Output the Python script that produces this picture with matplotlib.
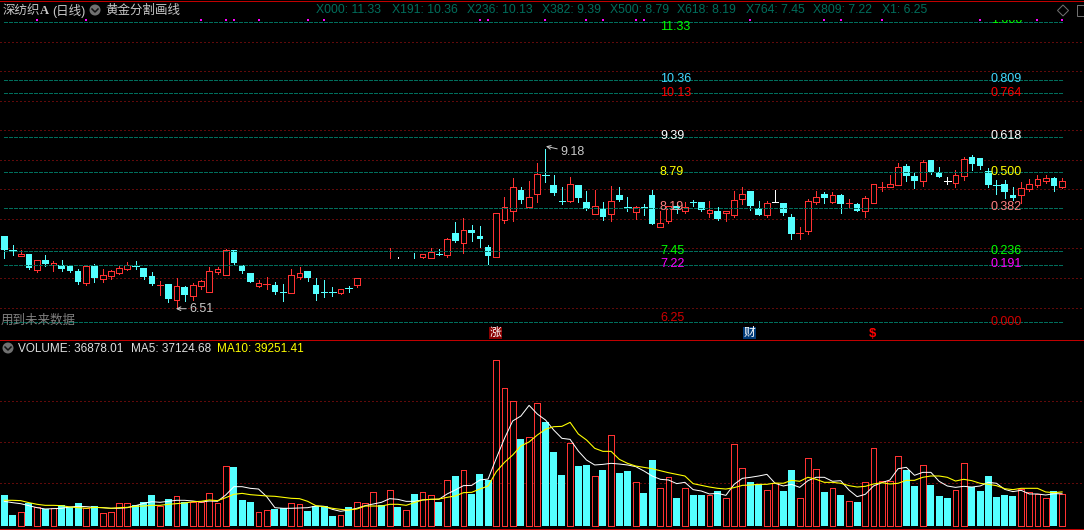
import matplotlib
matplotlib.use("Agg")
import matplotlib.pyplot as plt
from matplotlib.patches import Circle, Rectangle, Polygon
from matplotlib.transforms import Bbox

nan = float("nan")

# daily candles
opens = [7.71,7.48,7.38,7.41,7.14,7.31,7.22,7.22,7.21,7.12,
         6.92,7.21,6.98,7.04,7.09,7.15,7.21,7.17,7.03,6.89,
         6.90,6.63,6.85,6.69,6.87,6.77,7.10,7.05,7.48,7.22,
         7.09,6.87,6.90,6.88,6.76,6.75,7.02,7.12,6.88,6.76,
         6.76,6.75,6.83,6.88,nan,nan,nan,nan,nan,nan,
         nan,7.36,7.34,7.41,7.39,7.76,7.59,7.81,7.71,7.53,
         7.36,7.98,8.14,8.49,8.20,8.43,8.75,8.58,8.31,8.30,
         8.58,8.29,8.09,8.19,8.09,8.41,8.21,8.12,8.20,8.41,
         7.87,7.97,8.22,8.14,8.29,8.29,8.10,8.14,8.10,8.07,
         8.33,8.47,8.19,8.07,8.29,8.27,8.03,7.76,7.80,8.29,
         8.42,8.29,8.41,8.27,8.25,8.14,8.27,8.54,8.54,8.58,
         8.90,8.73,8.64,9.00,8.80,8.65,8.61,8.73,9.05,9.03,
         8.81,8.58,8.59,8.41,8.41,8.50,8.57,8.65,8.69,8.54]
closes = [7.48,7.47,7.41,7.17,7.30,7.24,7.25,7.15,7.12,6.93,
          7.21,7.00,7.05,7.12,7.17,7.22,7.20,7.02,6.90,6.90,
          6.65,6.87,6.71,6.88,6.95,7.12,7.15,7.48,7.26,7.12,
          6.93,6.92,6.91,6.76,6.75,7.05,7.08,7.00,6.73,6.75,
          6.75,6.81,6.82,7.00,nan,nan,nan,nan,nan,nan,
          nan,7.40,7.44,7.40,7.66,7.63,7.81,7.76,7.66,7.37,
          8.10,8.20,8.54,8.32,8.37,8.76,8.74,8.44,8.30,8.59,
          8.36,8.17,8.22,8.03,8.30,8.32,8.20,8.20,8.19,7.92,
          7.93,8.22,8.15,8.21,8.28,8.15,8.15,8.00,8.13,8.32,
          8.42,8.22,8.07,8.27,8.29,8.10,7.75,7.77,8.30,8.37,
          8.36,8.41,8.25,8.28,8.14,8.36,8.59,8.55,8.59,8.88,
          8.73,8.64,8.97,8.80,8.71,8.65,8.74,9.02,8.93,8.90,
          8.58,8.57,8.46,8.36,8.52,8.59,8.68,8.69,8.56,8.64]
highs = [7.71,7.56,7.48,7.41,7.30,7.39,7.29,7.31,7.21,7.15,
         7.21,7.24,7.15,7.14,7.21,7.27,7.29,7.17,7.10,6.95,
         6.90,7.00,6.87,6.92,6.97,7.19,7.19,7.49,7.48,7.22,
         7.09,6.97,7.02,6.93,6.90,7.15,7.19,7.12,7.00,6.97,
         6.85,6.81,6.87,7.00,nan,nan,nan,7.50,7.35,nan,
         7.42,7.40,7.51,7.49,7.68,7.95,8.02,7.90,7.88,7.56,
         8.10,8.37,8.69,8.54,8.64,8.95,9.18,8.74,8.54,8.71,
         8.58,8.47,8.49,8.29,8.56,8.54,8.37,8.22,8.25,8.49,
         8.14,8.22,8.29,8.29,8.32,8.29,8.30,8.20,8.13,8.47,
         8.54,8.47,8.30,8.30,8.49,8.27,8.09,7.86,8.34,8.47,
         8.46,8.46,8.42,8.34,8.27,8.39,8.59,8.63,8.74,8.95,
         8.93,8.78,9.00,9.00,8.88,8.71,8.83,9.05,9.08,9.03,
         8.86,8.66,8.66,8.54,8.63,8.68,8.74,8.74,8.71,8.69]
lows = [7.34,7.39,7.38,7.15,7.10,7.21,7.12,7.12,7.10,6.90,
        6.88,6.93,6.93,6.98,7.07,7.14,7.15,6.98,6.88,6.71,
        6.60,6.51,6.61,6.63,6.82,6.77,7.07,7.05,7.22,7.09,
        6.93,6.85,6.82,6.73,6.61,6.75,6.98,6.95,6.63,6.68,
        6.70,6.73,6.76,6.85,nan,nan,nan,7.34,7.34,nan,
        7.34,7.34,7.34,7.39,7.36,7.61,7.42,7.63,7.53,7.24,
        7.36,7.93,7.97,8.27,8.20,8.29,8.63,8.41,8.25,8.29,
        8.29,8.15,8.09,7.98,7.97,8.30,8.14,8.00,8.07,7.92,
        7.87,7.93,8.10,8.10,8.22,8.14,8.03,7.98,7.97,8.03,
        8.25,8.15,8.07,8.03,8.29,8.07,7.66,7.66,7.75,8.25,
        8.27,8.27,8.10,8.19,8.14,8.03,8.27,8.47,8.54,8.58,
        8.64,8.53,8.56,8.76,8.71,8.59,8.54,8.66,8.83,8.85,
        8.54,8.42,8.36,8.32,8.27,8.47,8.54,8.61,8.47,8.53]
# bars with only a wick showing
wick_only = {47: "r", 48: "w", 50: "c"}

volume = [35712,12672,15744,26112,21504,19200,20352,23808,21504,26496,
          20352,23040,14592,16128,26112,26112,24192,27648,35712,22656,
          31104,34176,27648,27264,27264,37632,26112,68736,67968,29952,
          27648,15744,18048,19584,20352,26112,24960,17280,22656,22656,
          11520,12288,21888,27264,26112,38784,24192,41088,21888,18048,
          36864,38784,35328,27648,52608,57600,64128,36864,59904,52992,
          190848,158592,143616,100224,102144,141312,119808,85248,58752,95232,
          69120,70272,57216,64512,104448,61056,63360,50304,38016,76032,
          43392,56064,32256,43392,35712,35712,35328,40320,31872,94080,
          66432,50688,48384,41088,49152,40320,64512,31872,77952,65280,
          39168,43392,35712,28416,27648,50304,89472,51456,51456,80256,
          64512,46080,69888,47232,34560,32256,41088,72192,44544,40320,
          57600,33408,35712,34560,42240,38784,36480,31872,40320,36878]
vol_colors = ("ccrcrcrccc" "rcrrrrcccr" "crcrrrrrcc" "crrccrrccc"
              "crcrrrcrcr" "crrcrcrccc" "rrrcrrcccr" "ccrcrccrcc"
              "rrcrccrcrr" "rccrrccrrr" "crcrcrrrrr" "ccrcccrrcc"
              "ccccrrrrcr")
ma5 = [28.4,26.9,25.7,23.4,21.1,19.6,20.0,20.4,21.9,22.7,
       22.3,21.5,21.1,20.4,20.4,21.1,23.4,26.1,28.0,27.3,
       28.4,29.6,29.6,28.8,27.6,28.8,28.4,35.7,45.3,45.3,
       43.4,42.6,33.8,21.1,20.4,20.4,20.7,21.1,23.0,22.7,
       19.2,16.9,18.4,20.4,23.4,25.3,27.3,31.5,30.7,28.4,
       28.4,30.0,30.7,30.7,36.9,41.5,46.5,46.8,53.0,54.1,
       78.0,101.0,121.0,126.7,139.0,129.0,122.1,110.6,101.0,99.8,
       86.4,76.0,70.3,71.0,72.2,71.4,70.3,68.4,63.4,57.6,
       53.8,53.0,48.8,50.3,41.9,40.3,36.9,37.6,35.3,48.0,
       54.9,56.1,57.6,59.5,49.2,46.1,48.0,44.5,52.2,56.1,
       56.1,51.5,52.2,41.5,33.8,36.5,46.1,49.9,53.0,66.0,
       67.6,58.4,61.8,61.8,51.5,46.1,44.5,45.7,44.9,46.1,
       50.3,49.2,42.2,39.6,41.1,36.9,36.9,35.7,37.2,37.12]
ma10 = [29.6,29.6,29.2,26.9,25.0,23.8,23.8,23.4,21.9,21.1,
        20.4,21.5,21.1,20.4,21.1,21.5,22.7,23.0,23.8,23.8,
        25.0,25.7,26.5,28.0,28.4,30.0,29.2,32.6,36.5,37.6,
        36.1,35.3,34.6,34.2,33.0,31.9,31.5,28.4,23.4,22.3,
        20.4,19.2,18.4,19.6,23.0,23.0,23.0,25.0,25.0,23.8,
        26.9,30.0,30.7,31.1,33.0,34.6,38.4,38.8,42.6,46.1,
        62.6,73.3,81.8,92.2,96.8,104.8,111.4,114.4,114.8,119.4,
        106.0,99.1,89.5,86.0,86.0,76.8,72.2,69.1,67.6,66.0,
        63.7,61.4,59.5,57.6,48.8,46.8,44.9,43.4,42.6,44.2,
        46.8,47.2,48.0,48.0,49.5,49.2,52.6,51.5,56.1,53.8,
        50.3,50.3,49.2,46.5,44.9,45.7,48.4,49.9,48.4,49.2,
        52.6,52.6,56.1,57.6,57.6,56.1,51.8,53.8,52.2,49.2,
        48.0,46.5,43.0,41.9,43.4,43.4,43.4,39.2,38.4,39.25]

fib_prices = [11.33,10.36,10.13,9.39,8.79,8.19,7.45,7.22,6.25]
fib_price_text = ["11.33","10.36","10.13","9.39","8.79","8.19","7.45","7.22","6.25"]
fib_ratio_text = ["1.000","0.809","0.764","0.618","0.500","0.382","0.236","0.191","0.000"]
fib_colors = ["#00ff00","#40d8ff","#ff0000","#ffffff","#ffff00","#ff8080","#00ff00","#ff00ff","#d00000"]
fib_codes = ["X000","X191","X236","X382","X500","X618","X764","X809","X1"]
grid_prices = [6.5,7.0,7.5,8.0,8.5,9.0,9.5,10.0,10.5,11.0]
vol_grid = [49200,96400,143600]
marker_days = [4,10,24,27,28,31,37,39,58,59,66,71,73,77,78,91,100,102,107,119,126,129]

RED = "#ff3232"
CYAN = "#54ffff"
TEAL = "#006e5c"
DOTRED = "#c01414"
LINERED = "#c00000"
W, H = 1084, 530
FONTS = ["Liberation Sans", "Noto Sans CJK SC"]
plt.rcParams["font.family"] = FONTS
PX = 0.72  # one pixel in points at dpi 100
DOTS = (0, (1, 3))

fig = plt.figure(figsize=(W / 100, H / 100), dpi=100, facecolor="black")

def panel(top, bottom):
    ax = fig.add_axes([0, 1 - bottom / H, 1, (bottom - top) / H], facecolor="black")
    ax.set_axis_off()
    ax.set_xlim(-4.3 / 8.2, (W - 4.3) / 8.2)
    return ax

def day(px):
    return (px - 4.3) / 8.2

days = list(range(len(opens)))
colors = {"r": RED, "c": CYAN, "w": "#ffffff"}

# ---- price panel
ax = panel(0, 340)
ax.set_ylim(6.25 - 17.7 / 59.06, 11.33 + 22.3 / 59.06)

for g in grid_prices:
    ax.plot([day(0), day(W)], [g, g], color=DOTRED, lw=PX, ls=DOTS, zorder=1, dash_capstyle="butt")

for i in days:
    o, c, h, l = opens[i], closes[i], highs[i], lows[i]
    if i in wick_only:
        ax.plot([i, i], [l, h], color=colors[wick_only[i]], lw=PX, zorder=2, antialiased=False)
        continue
    if o != o:
        continue
    col = RED if c > o else (CYAN if c < o else "#ffffff")
    ax.plot([i, i], [l, h], color=col, lw=PX, zorder=2, antialiased=False)
    if abs(c - o) <= 0.011 or c == o:
        ax.plot([i - 0.4, i + 0.4], [o, o], color=col, lw=PX, zorder=3, antialiased=False)
    elif c > o:
        ax.bar(i, c - o, bottom=o, width=0.7, facecolor="black", edgecolor=col, linewidth=PX, zorder=3, antialiased=False)
    else:
        ax.bar(i, o - c, bottom=c, width=0.8, facecolor=col, edgecolor=col, linewidth=0, zorder=3, antialiased=False)

# golden section lines sit over the candles
for p in fib_prices:
    ax.plot([day(4), day(1062)], [p, p], color=TEAL, lw=PX, ls=(0, (4, 2)), zorder=4, antialiased=False)

ax.scatter(marker_days, [11.37] * len(marker_days), marker="s", s=2.1, color="#ff00ff", lw=0, zorder=5)

label_shift = {0: -0.09, 8: 0.07}
for n, (p, a, b, col) in enumerate(zip(fib_prices, fib_price_text, fib_ratio_text, fib_colors)):
    ax.text(day(660), p + label_shift.get(n, 0) + 0.01, a, color=col, fontsize=9, va="center", ha="left", zorder=6)
    t = ax.text(day(1022), p + (0.0 if n != 0 else 0.03) + 0.01, b, color=col, fontsize=9, va="center", ha="right", zorder=6)
    if n == 0:
        t.set_clip_on(True)
        t.set_clip_box(Bbox([[960, 0], [1040, H - 20]]))

ax.annotate("6.51", xy=(day(176), 6.48), xytext=(day(189), 6.48), color="#c8c8c8", fontsize=9, va="center",
            arrowprops=dict(arrowstyle="->,head_width=0.15,head_length=0.3", color="#c8c8c8", lw=PX, shrinkA=0, shrinkB=0))
ax.annotate("9.18", xy=(day(546), 9.23), xytext=(day(560), 9.13), color="#c8c8c8", fontsize=9, va="center",
            arrowprops=dict(arrowstyle="->,head_width=0.15,head_length=0.3", color="#c8c8c8", lw=PX, shrinkA=0, shrinkB=0))

# ---- volume panel
vax = panel(340, H)
vax.set_ylim(-4608, 186 * 1152)
for g in vol_grid:
    vax.plot([day(0), day(W)], [g, g], color=DOTRED, lw=PX, ls=DOTS, zorder=1, dash_capstyle="butt")
for i in days:
    if vol_colors[i] == "r":
        vax.bar(i, volume[i], width=0.7, facecolor="black", edgecolor=RED, linewidth=PX, zorder=2, antialiased=False)
    else:
        vax.bar(i, volume[i], width=0.85, facecolor=CYAN, linewidth=0, zorder=2, antialiased=False)
vax.plot(days, [v * 1000 for v in ma5], color="#ffffff", lw=PX, zorder=3)
vax.plot(days, [v * 1000 for v in ma10], color="#ffff00", lw=PX * 1.1, zorder=3)

# ---- header texts, badges and rules in pixel coordinates
top = fig.add_axes([0, 0, 1, 1], facecolor="none")
top.set_axis_off()
top.set_xlim(0, W)
top.set_ylim(H, 0)

for y in [0.5, 339.5, 528.5]:
    top.plot([0, W], [y, y], color=LINERED, lw=PX, antialiased=False)

top.text(3, 10.5, "深纺织", color="#c8c8c8", fontsize=9, va="center")
top.text(40, 10.5, "A", color="#c8c8c8", fontsize=9, va="center", fontweight="bold", family="Liberation Serif")
top.text(52, 10.5, "(日线)", color="#c8c8c8", fontsize=9, va="center")
top.text(105, 10.5, "黄金分割画线", color="#c8c8c8", fontsize=9, va="center")

for cx, cy in [(95, 10), (8, 348)]:
    top.add_patch(Circle((cx, cy), 5.5, color="#707070", lw=0))
    top.plot([cx - 3, cx, cx + 3], [cy - 1, cy + 2, cy - 1], color="#101010", lw=1.1)

code_x = [316, 392, 467, 542, 610, 677, 746, 813, 882]
for x, code, p in zip(code_x, fib_codes, fib_price_text):
    top.text(x, 10, f"{code}: {p}", color=TEAL, fontsize=8.8, va="center")

top.add_patch(Polygon([(1063, 5), (1068.5, 10.5), (1063, 16), (1057.5, 10.5)], fill=False, ec="#707070", lw=PX))
top.add_patch(Rectangle((1077, 5), 10, 11, fill=False, ec="#707070", lw=PX))

top.text(1, 320.5, "用到未来数据", color="#808080", fontsize=9, va="center")
top.text(18, 349, "VOLUME: 36878.01", color="#e0e0e0", fontsize=8.5, va="center")
top.text(131, 349, "MA5: 37124.68", color="#e0e0e0", fontsize=8.5, va="center")
top.text(217, 349, "MA10: 39251.41", color="#ffff00", fontsize=8.5, va="center")

top.add_patch(Rectangle((489, 327), 13, 12, color="#8a0000", lw=0))
top.text(495.5, 333, "涨", color="#ffffff", fontsize=8.5, va="center", ha="center")
top.add_patch(Rectangle((743, 327), 13, 12, color="#003a78", lw=0))
top.text(749.5, 333, "财", color="#ffffff", fontsize=8.5, va="center", ha="center")
top.text(872, 334, "$", color="#ff0000", fontsize=9.5, fontweight="bold", va="center", ha="center")

fig.savefig("out.png", dpi=100, facecolor="black")
